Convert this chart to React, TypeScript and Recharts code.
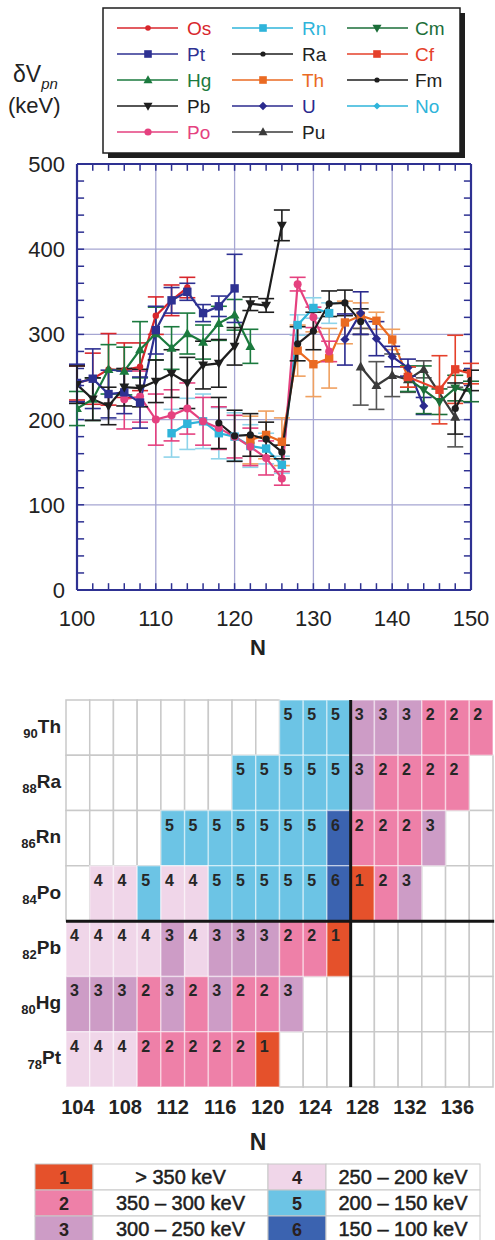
import React from 'react';
import {
  LineChart, Line, XAxis, YAxis, CartesianGrid, ErrorBar, ReferenceLine,
  ScatterChart, Scatter, ReferenceArea,
} from 'recharts';

const FONT = '"Liberation Sans", Arial, Helvetica, sans-serif';

// ---------- top chart: dVpn (keV) vs N ----------
const osN = [100, 102, 104, 106, 108, 110, 112, 114];
const osV = [243, 248, 259, 258, 262, 322, 340, 355];
const osE = [20, 30, 42, 32, 28, 22, 18, 12];

const ptN = [100, 102, 104, 106, 108, 110, 112, 114, 116, 118, 120];
const ptV = [243, 248, 230, 232, 220, 305, 340, 350, 325, 333, 354];
const ptE = [22, 35, 28, 25, 30, 28, 15, 10, 10, 12, 40];

const hgN = [100, 102, 104, 106, 108, 110, 112, 114, 116, 118, 120, 122];
const hgV = [213, 224, 259, 257, 282, 301, 284, 301, 291, 313, 323, 286];
const hgE = [20, 25, 29, 28, 33, 31, 25, 24, 20, 20, 18, 20];

const pbN = [100, 102, 104, 106, 108, 110, 112, 114, 116, 118, 120, 122, 124, 126];
const pbV = [241, 224, 216, 238, 237, 245, 254, 243, 264, 266, 286, 336, 334, 428];
const pbE = [22, 25, 22, 22, 22, 25, 28, 30, 28, 28, 22, 8, 8, 18];

const poN = [106, 108, 110, 112, 114, 116, 118, 120, 122, 124, 126, 128, 130, 132];
const poV = [224, 227, 200, 205, 213, 198, 190, 180, 168, 155, 131, 359, 320, 280];
const poE = [35, 30, 30, 30, 30, 28, 25, 25, 22, 20, 8, 8, 12, 12];

const rnN = [112, 114, 116, 118, 120, 122, 124, 126, 128, 130, 132];
const rnV = [184, 195, 198, 184, 180, 169, 166, 147, 311, 331, 325];
const rnE = [28, 30, 32, 30, 28, 25, 18, 10, 12, 12, 12];

const raN = [118, 120, 122, 124, 126, 128, 130, 132, 134, 136];
const raV = [196, 181, 182, 177, 162, 289, 304, 336, 337, 315];
const raE = [30, 30, 25, 20, 8, 20, 22, 15, 15, 15];

const thN = [122, 124, 126, 128, 130, 132, 134, 136, 138, 140, 142];
const thV = [176, 182, 174, 281, 265, 272, 314, 322, 316, 294, 250];
const thE = [28, 28, 28, 30, 38, 35, 25, 15, 10, 12, 12];

const uN = [134, 136, 138, 140, 142, 144];
const uV = [294, 325, 295, 274, 261, 216];
const uE = [30, 25, 20, 12, 10, 10];

const puN = [136, 138, 140, 142, 144, 148];
const puV = [262, 240, 252, 247, 259, 203];
const puE = [45, 28, 25, 15, 10, 35];

const cmN = [142, 144, 146, 148, 150];
const cmV = [248, 235, 221, 237, 233];
const cmE = [15, 28, 15, 15, 12];

const cfN = [142, 146, 148, 150];
const cfV = [250, 235, 259, 254];
const cfE = [12, 40, 40, 12];

const fmN = [148, 150];
const fmV = [213, 246];
const fmE = [30, 12];

const noN: number[] = [];
const noV: number[] = [];
const noE: number[] = [];

const xTicks = [100, 110, 120, 130, 140, 150];
const yTicks = [0, 100, 200, 300, 400, 500];
const xMinor = [102, 104, 106, 108, 110, 112, 114, 116, 118, 120, 122, 124, 126, 128, 130, 132, 134, 136, 138, 140, 142, 144, 146, 148];
const yMinor = [20, 40, 60, 80, 100, 120, 140, 160, 180, 200, 220, 240, 260, 280, 300, 320, 340, 360, 380, 400, 420, 440, 460, 480];

type Shape = 'circle' | 'square' | 'tri' | 'itri' | 'diamond' | 'dot';
type Series = {
  name: string; color: string; text: string; err: string; shape: Shape; size: number;
  n: number[]; v: number[]; e: number[];
};

const SERIES: Series[] = [
  { name: 'Os', color: '#D8262C', text: '#D8262C', err: '#D8262C', shape: 'circle', size: 3.2, n: osN, v: osV, e: osE },
  { name: 'Pt', color: '#2E3192', text: '#2E3192', err: '#2E3192', shape: 'square', size: 4.2, n: ptN, v: ptV, e: ptE },
  { name: 'Hg', color: '#1B7A3E', text: '#1B7A3E', err: '#1B7A3E', shape: 'tri', size: 4.5, n: hgN, v: hgV, e: hgE },
  { name: 'Pb', color: '#1E1E1E', text: '#1E1E1E', err: '#1E1E1E', shape: 'itri', size: 4.5, n: pbN, v: pbV, e: pbE },
  { name: 'Po', color: '#E5417F', text: '#E5417F', err: '#E5417F', shape: 'circle', size: 4, n: poN, v: poV, e: poE },
  { name: 'Rn', color: '#2FB4DA', text: '#2FB4DA', err: '#8FD4EA', shape: 'square', size: 4.2, n: rnN, v: rnV, e: rnE },
  { name: 'Ra', color: '#1E1E1E', text: '#222222', err: '#1E1E1E', shape: 'dot', size: 3.6, n: raN, v: raV, e: raE },
  { name: 'Th', color: '#EA6A22', text: '#EA6A22', err: '#F0A060', shape: 'square', size: 4.2, n: thN, v: thV, e: thE },
  { name: 'U', color: '#2B2A8E', text: '#2B2A8E', err: '#2B2A8E', shape: 'diamond', size: 4.6, n: uN, v: uV, e: uE },
  { name: 'Pu', color: '#3A3A3A', text: '#222222', err: '#555555', shape: 'tri', size: 4.5, n: puN, v: puV, e: puE },
  { name: 'Cm', color: '#1B6E38', text: '#1B6E38', err: '#1B6E38', shape: 'itri', size: 4.5, n: cmN, v: cmV, e: cmE },
  { name: 'Cf', color: '#E5402A', text: '#E5402A', err: '#E5402A', shape: 'square', size: 4.2, n: cfN, v: cfV, e: cfE },
  { name: 'Fm', color: '#1E1E1E', text: '#222222', err: '#1E1E1E', shape: 'dot', size: 3.6, n: fmN, v: fmV, e: fmE },
  { name: 'No', color: '#2FB4DA', text: '#2FB4DA', err: '#2FB4DA', shape: 'diamond', size: 4, n: noN, v: noV, e: noE },
];

const DRAW_ORDER = ['Rn', 'Th', 'Po', 'Ra', 'Os', 'Hg', 'Pt', 'Pb', 'Pu', 'U', 'Cm', 'Cf', 'Fm', 'No'];
const LEGEND_COLS = [['Os', 'Pt', 'Hg', 'Pb', 'Po'], ['Rn', 'Ra', 'Th', 'U', 'Pu'], ['Cm', 'Cf', 'Fm', 'No']];

// ---------- bottom chart: class map ----------
const gridN = [104, 106, 108, 110, 112, 114, 116, 118, 120, 122, 124, 126, 128, 130, 132, 134, 136, 138];
const gridTicks = [104, 108, 112, 116, 120, 124, 128, 132, 136];
const gridEls = ['Th', 'Ra', 'Rn', 'Po', 'Pb', 'Hg', 'Pt'];
const gridZ = [90, 88, 86, 84, 82, 80, 78];
const thCells = [0, 0, 0, 0, 0, 0, 0, 0, 0, 5, 5, 5, 3, 3, 3, 2, 2, 2];
const raCells = [0, 0, 0, 0, 0, 0, 0, 5, 5, 5, 5, 5, 3, 2, 2, 2, 2, 0];
const rnCells = [0, 0, 0, 0, 5, 5, 5, 5, 5, 5, 5, 6, 2, 2, 2, 3, 0, 0];
const poCells = [0, 4, 4, 5, 4, 4, 5, 5, 5, 5, 5, 6, 1, 2, 3, 0, 0, 0];
const pbCells = [4, 4, 4, 4, 3, 4, 3, 3, 3, 2, 2, 1, 0, 0, 0, 0, 0, 0];
const hgCells = [3, 3, 3, 2, 3, 2, 3, 2, 2, 3, 0, 0, 0, 0, 0, 0, 0, 0];
const ptCells = [4, 4, 4, 2, 2, 2, 2, 2, 1, 0, 0, 0, 0, 0, 0, 0, 0, 0];
const gridRows = [thCells, raCells, rnCells, poCells, pbCells, hgCells, ptCells];

const classColors = ['#FFFFFF', '#E5512B', '#EE80A8', '#CD9CC6', '#F0D6E9', '#6CC4E5', '#3B63B0'];
const classLabels = ['> 350 keV', '350 – 300 keV', '300 – 250 keV', '250 – 200 keV', '200 – 150 keV', '150 – 100 keV'];

const AXIS_BLUE = '#2E3192';

function Marker({ cx, cy, shape, color, size }: { cx?: number; cy?: number; shape: Shape; color: string; size: number }) {
  if (cx == null || cy == null || isNaN(cx) || isNaN(cy)) return null;
  const s = size;
  switch (shape) {
    case 'circle':
      return <circle cx={cx} cy={cy} r={s} fill={color} />;
    case 'dot':
      return <circle cx={cx} cy={cy} r={s} fill={color} />;
    case 'square':
      return <rect x={cx - s} y={cy - s} width={2 * s} height={2 * s} fill={color} />;
    case 'tri':
      return <polygon points={`${cx},${cy - s * 1.15} ${cx - s * 1.1},${cy + s * 0.8} ${cx + s * 1.1},${cy + s * 0.8}`} fill={color} />;
    case 'itri':
      return <polygon points={`${cx},${cy + s * 1.15} ${cx - s * 1.1},${cy - s * 0.8} ${cx + s * 1.1},${cy - s * 0.8}`} fill={color} />;
    case 'diamond':
      return <polygon points={`${cx},${cy - s} ${cx + s},${cy} ${cx},${cy + s} ${cx - s},${cy}`} fill={color} />;
    default:
      return null;
  }
}

const XTick = (p: any) => (
  <text x={p.x} y={p.y + 36} textAnchor="middle" fontSize={22} fill="#222" fontFamily={FONT}>{p.payload.value}</text>
);
const YTick = (p: any) => (
  <text x={p.x - 12} y={p.y + 3 + 5} textAnchor="end" fontSize={22} fill="#222" fontFamily={FONT}>{p.payload.value}</text>
);
const HXTick = (p: any) => (
  <text x={p.x} y={p.y + 27} textAnchor="middle" fontSize={20} fontWeight="bold" fill="#222" fontFamily={FONT}>{p.payload.value}</text>
);
const HYTick = (p: any) => {
  const i = gridZ.indexOf(p.payload.value);
  return (
    <text x={p.x - 5} y={p.y + 5} textAnchor="end" fontWeight="bold" fill="#222" fontFamily={FONT}>
      <tspan fontSize={13} dy={5}>{gridZ[i]}</tspan>
      <tspan fontSize={19} dy={-5}>{gridEls[i]}</tspan>
    </text>
  );
};

function TopChart() {
  const ordered = DRAW_ORDER.map((nm) => SERIES.find((s) => s.name === nm)!).filter((s) => s.n.length > 0);
  return (
    <LineChart width={495} height={660} margin={{ top: 164, right: 24, bottom: 0, left: 0 }}
      style={{ position: 'absolute', left: 0, top: 0 }}>
      <CartesianGrid stroke="#A6A6D2" strokeWidth={1.3} />
      <XAxis type="number" dataKey="n" domain={[100, 150]} ticks={xTicks} allowDataOverflow
        axisLine={false} tickLine={false} tickSize={0} tickMargin={0} height={70} tick={XTick} />
      <YAxis type="number" domain={[0, 500]} ticks={yTicks} allowDataOverflow
        axisLine={false} tickLine={false} tickSize={0} tickMargin={0} width={77} tick={YTick} />
      {xMinor.map((n) => (
        <ReferenceLine key={`xb${n}`} segment={[{ x: n, y: 0 }, { x: n, y: 8 }]} stroke={AXIS_BLUE} strokeWidth={1.5} ifOverflow="visible" />
      ))}
      {xMinor.map((n) => (
        <ReferenceLine key={`xt${n}`} segment={[{ x: n, y: 500 }, { x: n, y: 492 }]} stroke={AXIS_BLUE} strokeWidth={1.5} ifOverflow="visible" />
      ))}
      {yMinor.map((v) => (
        <ReferenceLine key={`yl${v}`} segment={[{ x: 100, y: v }, { x: 100.9, y: v }]} stroke={AXIS_BLUE} strokeWidth={1.5} ifOverflow="visible" />
      ))}
      {yMinor.map((v) => (
        <ReferenceLine key={`yr${v}`} segment={[{ x: 150, y: v }, { x: 149.1, y: v }]} stroke={AXIS_BLUE} strokeWidth={1.5} ifOverflow="visible" />
      ))}
      <ReferenceLine x={100} stroke={AXIS_BLUE} strokeWidth={2.2} ifOverflow="visible" />
      <ReferenceLine x={150} stroke={AXIS_BLUE} strokeWidth={2.2} ifOverflow="visible" />
      <ReferenceLine y={0} stroke={AXIS_BLUE} strokeWidth={2.2} ifOverflow="visible" />
      <ReferenceLine y={500} stroke={AXIS_BLUE} strokeWidth={2.2} ifOverflow="visible" />
      {ordered.map((s) => {
        const pts = s.n.map((n, i) => ({ n, v: s.v[i], e: s.e[i] }));
        return (
          <Line key={s.name} name={s.name} data={pts} dataKey="v" type="linear" stroke={s.color} strokeWidth={2.2}
            isAnimationActive={false} activeDot={false}
            dot={(p: any) => <Marker key={`${s.name}-${p.index}`} cx={p.cx} cy={p.cy} shape={s.shape} color={s.color} size={s.size} />}>
            <ErrorBar dataKey="e" width={8} strokeWidth={1.6} stroke={s.err} direction="y" />
          </Line>
        );
      })}
    </LineChart>
  );
}

function GridChart() {
  const cells: { n: number; z: number; c: number }[] = [];
  gridRows.forEach((row, r) => row.forEach((c, k) => cells.push({ n: gridN[k], z: gridZ[r], c })));
  const empty = cells.filter((d) => d.c === 0);
  const filled = cells.filter((d) => d.c > 0);
  return (
    <ScatterChart width={495} height={467} margin={{ top: 10, right: 2, bottom: 0, left: 0 }}
      style={{ position: 'absolute', left: 0, top: 690 }}>
      <XAxis type="number" dataKey="n" domain={[103, 139]} ticks={gridTicks} allowDataOverflow
        axisLine={false} tickLine={false} tickSize={0} tickMargin={0} height={70} tick={HXTick} />
      <YAxis type="number" dataKey="z" domain={[77, 91]} ticks={gridZ} allowDataOverflow
        axisLine={false} tickLine={false} tickSize={0} tickMargin={0} width={66} tick={HYTick} />
      {empty.map((d) => (
        <ReferenceArea key={`e${d.n}-${d.z}`} x1={d.n - 1} x2={d.n + 1} y1={d.z - 1} y2={d.z + 1}
          fill="#FFFFFF" fillOpacity={1} stroke="#C9C9C9" strokeWidth={1.5} ifOverflow="visible" />
      ))}
      {filled.map((d) => (
        <ReferenceArea key={`f${d.n}-${d.z}`} x1={d.n - 1} x2={d.n + 1} y1={d.z - 1} y2={d.z + 1}
          fill={classColors[d.c]} fillOpacity={1} stroke="rgba(255,255,255,0.45)" strokeWidth={1.5} ifOverflow="visible"
          label={(lp: any) => {
            const vb = lp.viewBox || {};
            return (
              <text x={(vb.x ?? 0) + 4} y={(vb.y ?? 0) + 20} fontSize={16} fontWeight="bold" fill="#262626" fontFamily={FONT}>{d.c}</text>
            );
          }} />
      ))}
      <ReferenceLine x={127} stroke="#151515" strokeWidth={3} ifOverflow="visible" />
      <ReferenceLine segment={[{ x: 103, y: 83 }, { x: 139.1, y: 83 }]} stroke="#151515" strokeWidth={3} ifOverflow="visible" />
      <Scatter data={cells} dataKey="z" isAnimationActive={false} shape={() => <g />} />
    </ScatterChart>
  );
}

function Overlay() {
  const colX = [[117, 178, 148, 187], [232, 293, 263, 302], [347, 408, 377, 415]];
  const rowY = [28, 54, 80, 106, 132];
  const rowsTop = [1164, 1190, 1216];
  const rh = 26;
  return (
    <svg width={495} height={1240} style={{ position: 'absolute', left: 0, top: 0, pointerEvents: 'none' }} fontFamily={FONT}>
      {/* y label */}
      <text x={13} y={82} fontSize={23} fill="#222">δV<tspan fontSize={15} fontStyle="italic" dy={7}>pn</tspan></text>
      <text x={8} y={113} fontSize={22} fill="#222">(keV)</text>
      {/* legend box */}
      <rect x={108} y={13} width={357} height={145} fill="#1E1E1E" />
      <rect x={103} y={8} width={357} height={145} fill="#FFFFFF" stroke="#1E1E1E" strokeWidth={1.5} />
      {LEGEND_COLS.map((col, ci) => col.map((nm, ri) => {
        const s = SERIES.find((q) => q.name === nm)!;
        const [x1, x2, mx, tx] = colX[ci];
        const y = rowY[ri];
        return (
          <g key={nm}>
            <line x1={x1} x2={x2} y1={y} y2={y} stroke={s.color} strokeWidth={1.5} />
            <Marker cx={mx} cy={y} shape={s.shape} color={s.color} size={s.shape === 'dot' ? 2.6 : s.size - 0.4} />
            <text x={tx} y={y + 7} fontSize={19} fill={s.text}>{nm}</text>
          </g>
        );
      }))}
      {/* N titles */}
      <text x={258} y={655} fontSize={22} fontWeight="bold" fill="#222" textAnchor="middle">N</text>
      <text x={258} y={1150} fontSize={23} fontWeight="bold" fill="#222" textAnchor="middle">N</text>
      {/* class legend */}
      {[0, 1, 2].map((r) => (
        <g key={`lg${r}`}>
          {[0, 1].map((c) => {
            const k = r + c * 3;
            const sx = c === 0 ? 35 : 268;
            const sw = 58;
            const tx = sx + sw;
            const tw = c === 0 ? 175 : 154;
            const y = rowsTop[r];
            return (
              <g key={`lc${k}`}>
                <rect x={sx} y={y} width={sw} height={r === 2 ? rh + 4 : rh} fill={classColors[k + 1]} stroke="#C8C8C8" strokeWidth={1} />
                <rect x={tx} y={y} width={tw} height={r === 2 ? rh + 4 : rh} fill="#FFFFFF" stroke="#C8C8C8" strokeWidth={1} />
                <text x={sx + sw / 2} y={y + 19.5} fontSize={18} fontWeight="bold" fill="#2A2020" textAnchor="middle">{k + 1}</text>
                <text x={tx + tw / 2} y={y + 19.5} fontSize={20} fill="#1E1E1E" stroke="#1E1E1E" strokeWidth={0.5} textAnchor="middle">{classLabels[k]}</text>
              </g>
            );
          })}
        </g>
      ))}
    </svg>
  );
}

export default function App() {
  return (
    <div style={{ position: 'absolute', left: 0, top: 0, width: 495, height: 1240, background: '#FFFFFF', overflow: 'hidden' }}>
      <TopChart />
      <GridChart />
      <Overlay />
    </div>
  );
}
